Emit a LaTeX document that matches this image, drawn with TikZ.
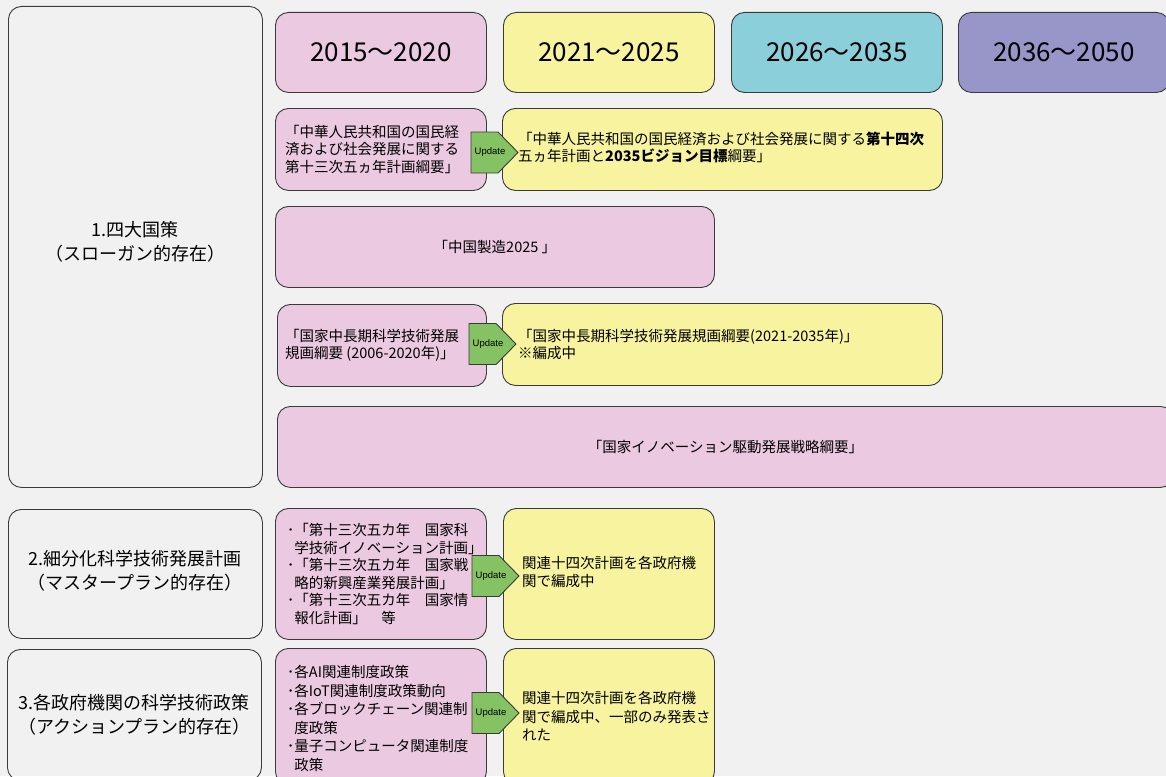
\documentclass[tikz,border=0pt]{standalone}
\usepackage{fontspec}
\setmainfont{Noto Sans CJK JP}
\newfontfamily\updfont{Liberation Sans}
\definecolor{bgc}{HTML}{F0F1F0}
\definecolor{pinkc}{HTML}{EBC9E1}
\definecolor{yelc}{HTML}{F7F39E}
\definecolor{cyanc}{HTML}{8ACFDA}
\definecolor{purc}{HTML}{9896C9}
\definecolor{grnc}{HTML}{84C264}
\definecolor{edgec}{HTML}{3A3A3A}
\tikzset{
 box/.style={draw=edgec, line width=0.9pt, rounded corners=13pt, anchor=north west, inner sep=0pt},
 lbl/.style={align=center, inner sep=0pt, font=\fontsize{18}{24}\selectfont},
 hdr/.style={inner sep=0pt, font=\fontsize{26}{30}\selectfont},
 txt/.style={anchor=west, align=left, inner sep=0pt, font=\fontsize{14.5}{17.6}\selectfont},
 txtb/.style={txt, font=\fontsize{14.5}{18.6}\selectfont},
 updshape/.style={draw=edgec, fill=grnc, line width=0.9pt, line join=miter},
 updtxt/.style={inner sep=0pt, font=\updfont\fontsize{9.5}{11}\selectfont}
}
\newcommand\updarrow[2]{%
  \coordinate (#1) at (#2);
  \draw[updshape] (#1) -- ++(27,0) -- ++(20,20.5) -- ++(-20,20.5) -- ++(-27,0) -- cycle;
  \node[updtxt] (#1t) at ([shift={(19,20.5)}]#1) {Update};
}
\begin{document}
\begin{tikzpicture}[x=1pt,y=-1pt]
\useasboundingbox (0,0) rectangle (1166,776);
\clip (0,0) rectangle (1166,776);
\fill[bgc] (0,0) rectangle (1166,776);

% left category boxes
\node[box, minimum width=254pt, minimum height=481pt] (c1) at (8,6) {};
\node[lbl] (c1t) at ([yshift=5pt]c1.center) {1.四大国策\\（スローガン的存在）};
\node[box, minimum width=254pt, minimum height=129pt] (c2) at (8,509) {};
\node[lbl] (c2t) at ([yshift=3pt]c2.center) {2.細分化科学技術発展計画\\（マスタープラン的存在）};
\node[box, minimum width=254pt, minimum height=131pt] (c3) at (7,649) {};
\node[lbl] (c3t) at (c3.center) {3.各政府機関の科学技術政策\\（アクションプラン的存在）};

% headers
\node[box, fill=pinkc, minimum width=211pt, minimum height=80pt] (h1) at (275,12) {};
\node[hdr] (h1t) at (h1.center) {2015〜2020};
\node[box, fill=yelc, minimum width=211pt, minimum height=80pt] (h2) at (503,12) {};
\node[hdr] (h2t) at (h2.center) {2021〜2025};
\node[box, fill=cyanc, minimum width=211pt, minimum height=80pt] (h3) at (731,12) {};
\node[hdr] (h3t) at (h3.center) {2026〜2035};
\node[box, fill=purc, minimum width=211pt, minimum height=80pt] (h4) at (958,12) {};
\node[hdr] (h4t) at (h4.center) {2036〜2050};

% row 1
\node[box, fill=pinkc, minimum width=211pt, minimum height=82pt] (p1) at (275,108) {};
\node[txt] (p1t) at ([xshift=10pt]p1.west) {「中華人民共和国の国民経\\済および社会発展に関する\\第十三次五ヵ年計画綱要」};
\node[box, fill=yelc, minimum width=440pt, minimum height=82pt] (y1) at (502,108) {};
\node[txt] (y1t) at ([xshift=16pt,yshift=2pt]y1.west) {「中華人民共和国の国民経済および社会発展に関する\textbf{第十四次}\\五ヵ年計画と\textbf{2035ビジョン目標}綱要」};
\updarrow{u1}{471,132}

% row 2
\node[box, fill=pinkc, minimum width=439pt, minimum height=81pt] (p2) at (275,206) {};
\node[txt, anchor=center] (p2t) at (p2.center) {「中国製造2025 」};

% row 3
\node[box, fill=pinkc, minimum width=209pt, minimum height=82pt] (p3) at (277,304) {};
\node[txt] (p3t) at ([xshift=8pt]p3.west) {「国家中長期科学技術発展\\規画綱要 (2006-2020年)」};
\node[box, fill=yelc, minimum width=440pt, minimum height=82pt] (y3) at (502,303) {};
\node[txt] (y3t) at ([xshift=16pt]y3.west) {「国家中長期科学技術発展規画綱要(2021-2035年)」\\※編成中};
\updarrow{u3}{469,323.5}

% row 4
\node[box, fill=pinkc, minimum width=896pt, minimum height=81pt] (p4) at (277,406) {};
\node[txt, anchor=center] (p4t) at (p4.center) {「国家イノベーション駆動発展戦略綱要」};

% row 5
\node[box, fill=pinkc, minimum width=211pt, minimum height=131pt] (p5) at (275,508) {};
\node[txt] (p5t) at ([xshift=12pt]p5.west) {･「第十三次五カ年　国家科\\\hspace*{0.5em}学技術イノベーション計画」\\･「第十三次五カ年　国家戦\\\hspace*{0.5em}略的新興産業発展計画」\\･「第十三次五カ年　国家情\\\hspace*{0.5em}報化計画」　等};
\node[box, fill=yelc, minimum width=211pt, minimum height=131pt] (y5) at (503,508) {};
\node[txt] (y5t) at ([xshift=19pt,yshift=2pt]y5.west) {関連十四次計画を各政府機\\関で編成中};
\updarrow{u5}{472,555.5}

% row 6
\node[box, fill=pinkc, minimum width=211pt, minimum height=136pt] (p6) at (275,648) {};
\node[txtb] (p6t) at ([xshift=12pt,yshift=-2pt]p6.west) {･各AI関連制度政策\\･各IoT関連制度政策動向\\･各ブロックチェーン関連制\\\hspace*{0.5em}度政策\\･量子コンピュータ関連制度\\\hspace*{0.5em}政策};
\node[box, fill=yelc, minimum width=211pt, minimum height=136pt] (y6) at (503,648) {};
\node[txtb] (y6t) at ([xshift=19pt]y6.west) {関連十四次計画を各政府機\\関で編成中、一部のみ発表さ\\れた};
\updarrow{u6}{472,692.5}
\end{tikzpicture}
\end{document}
